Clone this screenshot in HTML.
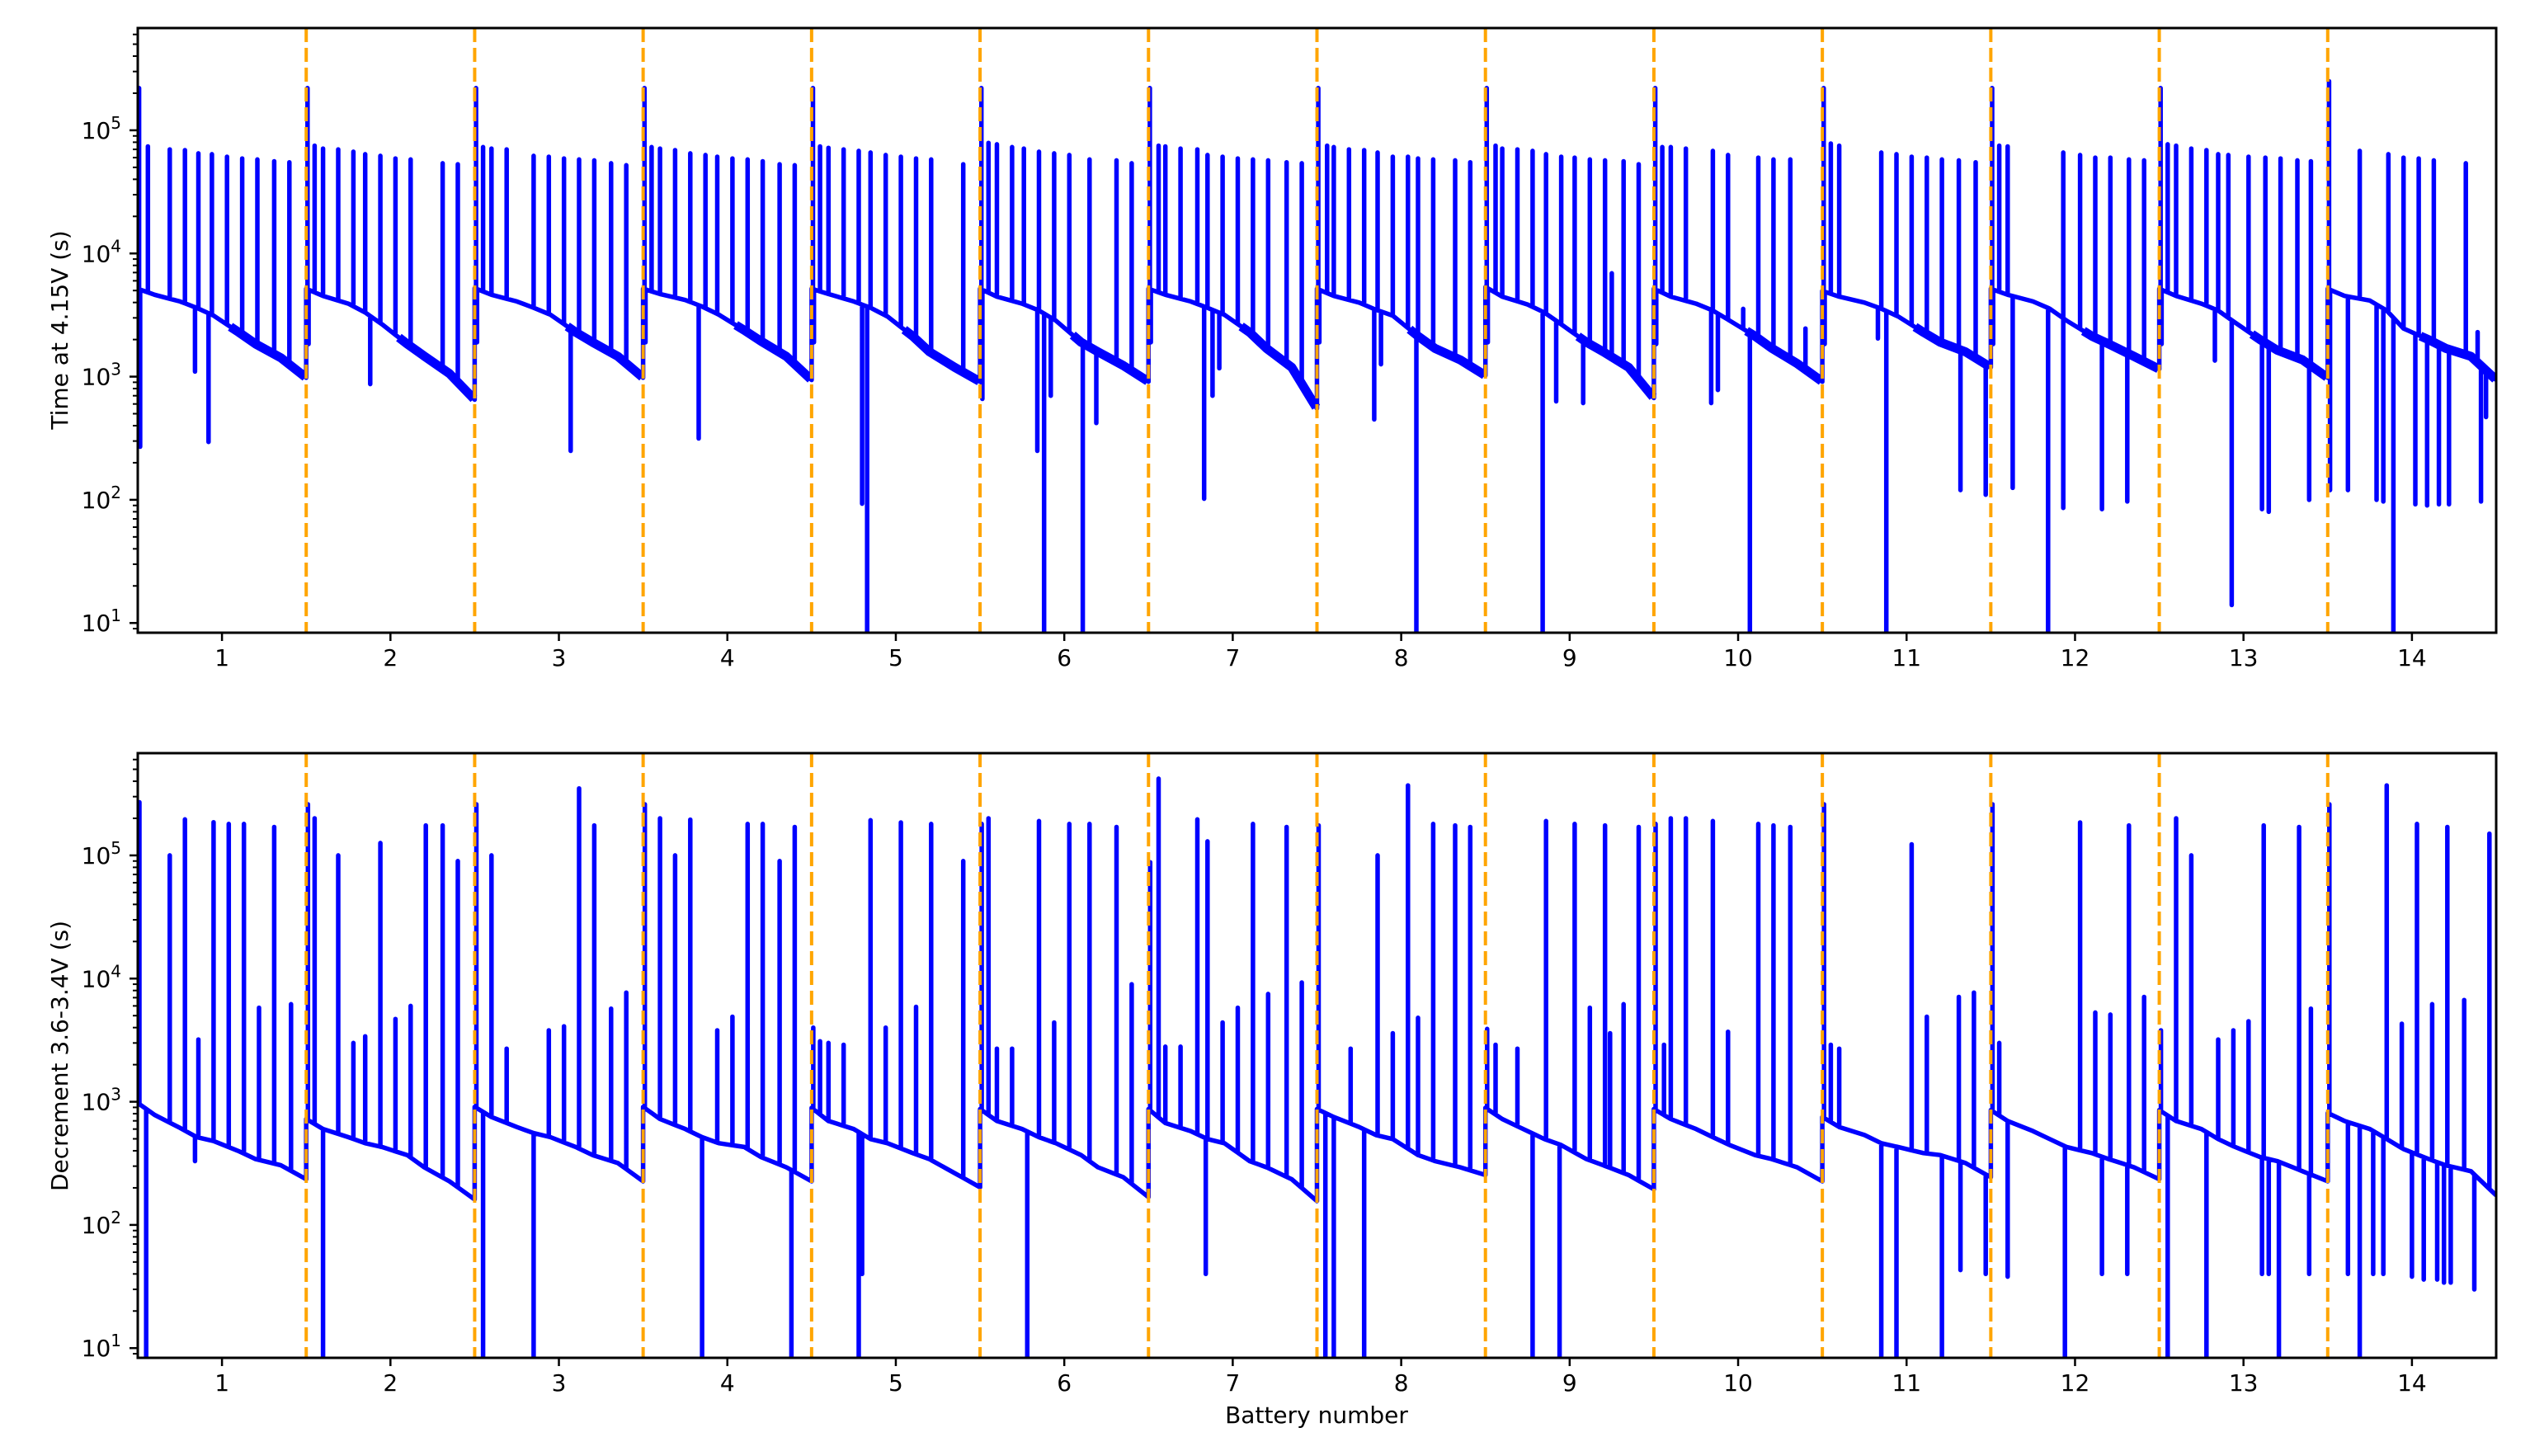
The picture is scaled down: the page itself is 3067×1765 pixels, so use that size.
<!DOCTYPE html>
<html><head><meta charset="utf-8">
<style>
html,body{margin:0;padding:0;background:#fff;}
svg{display:block;font-family:"DejaVu Sans","Liberation Sans",sans-serif;}
</style></head>
<body>
<svg id="chart" width="3067" height="1765" viewBox="0 0 3067 1765" xmlns="http://www.w3.org/2000/svg">
<rect width="3067" height="1765" fill="#fff"/>
<defs>
<clipPath id="clipTop"><rect x="167" y="34" width="2859" height="733"/></clipPath>
<clipPath id="clipBot"><rect x="167" y="913" width="2859" height="733"/></clipPath>
</defs>
<g id="topPanel"></g>
<g id="botPanel"></g>
<text x="1596" y="1725" font-size="28" text-anchor="middle">Battery number</text>
<text transform="translate(82,400) rotate(-90)" font-size="28" text-anchor="middle">Time at 4.15V (s)</text>
<text transform="translate(82,1280) rotate(-90)" font-size="28" text-anchor="middle">Decrement 3.6-3.4V (s)</text>
</svg>
<script>
const batteries = [1,2,3,4,5,6,7,8,9,10,11,12,13,14];
const xTicks = [1,2,3,4,5,6,7,8,9,10,11,12,13,14];
const boundaries = [1.5,2.5,3.5,4.5,5.5,6.5,7.5,8.5,9.5,10.5,11.5,12.5,13.5];
const yTickExps = [1,2,3,4,5];
const knotOffsets = [0,0.1,0.25,0.35,0.45,0.6,0.7,0.85,1];

const topBase = [
[5170,4620,4080,3620,3130,2290,1840,1420,980],
[5170,4520,3910,3320,2660,1840,1470,1060,650],
[5230,4620,4080,3620,3180,2290,1900,1460,980],
[5170,4690,4190,3710,3180,2380,1940,1460,940],
[5170,4690,4080,3620,3080,2130,1590,1190,910],
[5170,4460,3910,3440,2850,1900,1590,1230,910],
[5170,4620,4080,3620,3180,2290,1700,1190,550],
[5170,4520,3990,3490,3130,2130,1700,1370,1020],
[5350,4460,3850,3320,2660,1900,1590,1190,670],
[5170,4460,3910,3440,2850,2130,1700,1280,910],
[4960,4460,3990,3560,3080,2290,1900,1590,1190],
[5170,4620,4080,3560,2850,2130,1840,1460,1150],
[5170,4520,3910,3440,2750,1990,1640,1370,980],
[5170,4520,4150,3440,2460,1990,1700,1460,940]
];
const topUps = [
[[.008,2.2e5],[.06,7.4e4],[.19,7e4],[.28,6.9e4],[.36,6.5e4],[.44,6.4e4],[.53,6.1e4],[.62,5.9e4],[.71,5.8e4],[.81,5.6e4],[.9,5.5e4]],
[[.008,2.2e5],[.05,7.5e4],[.1,7.1e4],[.19,7e4],[.28,6.7e4],[.35,6.4e4],[.44,6.2e4],[.53,5.9e4],[.62,5.8e4],[.81,5.4e4],[.9,5.3e4]],
[[.008,2.2e5],[.05,7.3e4],[.1,7.1e4],[.19,7e4],[.35,6.2e4],[.44,6.1e4],[.53,5.9e4],[.62,5.8e4],[.71,5.7e4],[.81,5.4e4],[.9,5.2e4]],
[[.008,2.2e5],[.05,7.3e4],[.1,7.1e4],[.19,6.9e4],[.28,6.5e4],[.37,6.3e4],[.44,6.1e4],[.53,5.9e4],[.62,5.8e4],[.71,5.6e4],[.81,5.3e4],[.9,5.2e4]],
[[.008,2.2e5],[.05,7.4e4],[.1,7.2e4],[.19,7e4],[.28,6.8e4],[.35,6.6e4],[.44,6.3e4],[.53,6.1e4],[.62,5.9e4],[.71,5.8e4],[.9,5.3e4]],
[[.008,2.2e5],[.05,7.9e4],[.1,7.7e4],[.19,7.3e4],[.26,7.1e4],[.35,6.7e4],[.44,6.5e4],[.53,6.3e4],[.65,5.8e4],[.81,5.7e4],[.9,5.4e4]],
[[.008,2.2e5],[.06,7.5e4],[.1,7.4e4],[.19,7.1e4],[.29,7e4],[.35,6.3e4],[.44,6.1e4],[.53,5.9e4],[.62,5.8e4],[.71,5.7e4],[.82,5.5e4],[.91,5.4e4]],
[[.008,2.2e5],[.06,7.5e4],[.1,7.3e4],[.19,7e4],[.28,6.9e4],[.36,6.6e4],[.45,6.1e4],[.54,6.1e4],[.6,5.9e4],[.69,5.8e4],[.82,5.7e4],[.91,5.5e4]],
[[.008,2.2e5],[.06,7.5e4],[.1,7.1e4],[.19,7e4],[.28,6.8e4],[.36,6.4e4],[.45,6.1e4],[.53,6e4],[.62,5.8e4],[.71,5.7e4],[.75,6900],[.82,5.6e4],[.91,5.3e4]],
[[.008,2.2e5],[.05,7.3e4],[.1,7.3e4],[.19,7.1e4],[.35,6.8e4],[.44,6.3e4],[.53,3550],[.62,6e4],[.71,5.8e4],[.81,5.8e4],[.9,2460]],
[[.008,2.2e5],[.05,7.8e4],[.1,7.5e4],[.35,6.6e4],[.44,6.4e4],[.53,6.1e4],[.62,6e4],[.71,5.8e4],[.81,5.7e4],[.91,5.5e4]],
[[.008,2.2e5],[.05,7.5e4],[.1,7.4e4],[.43,6.6e4],[.53,6.3e4],[.62,6e4],[.71,6e4],[.82,5.8e4],[.91,5.7e4]],
[[.008,2.2e5],[.05,7.7e4],[.1,7.5e4],[.19,7.1e4],[.28,6.9e4],[.35,6.4e4],[.41,6.3e4],[.53,6.1e4],[.63,6e4],[.72,5.9e4],[.82,5.7e4],[.9,5.6e4]],
[[.008,2.5e5],[.19,6.8e4],[.36,6.4e4],[.45,6e4],[.54,5.9e4],[.63,5.7e4],[.82,5.4e4],[.89,2300]]
];
const topDowns = [
[[.014,270],[.34,1100],[.42,295]],
[[.014,1840],[.38,870]],
[[.014,1900],[.57,250]],
[[.014,1900],[.33,315]],
[[.014,1900],[.3,93],[.33,5]],
[[.014,660],[.34,250],[.38,5],[.42,700],[.61,5],[.69,420]],
[[.014,1900],[.33,102],[.38,700],[.42,1170]],
[[.014,1900],[.34,450],[.38,1260],[.59,5]],
[[.014,1900],[.34,5],[.42,630],[.58,610]],
[[.014,1840],[.34,610],[.38,780],[.57,5]],
[[.014,1840],[.33,2040],[.38,5],[.82,120],[.97,110]],
[[.014,1840],[.13,125],[.34,5],[.43,86],[.66,84],[.81,97]],
[[.014,1840],[.33,1350],[.43,14],[.61,84],[.65,80],[.89,100]],
[[.014,120],[.12,120],[.29,100],[.33,97],[.39,5],[.52,92],[.59,90],[.66,92],[.72,92],[.91,97],[.94,470]]
];

const botBase = [
[977,782,614,516,480,397,342,305,235],
[724,601,516,461,429,369,294,226,161],
[908,752,624,556,516,429,369,318,226],
[908,724,601,516,461,429,355,294,226],
[893,698,601,498,461,383,342,263,202],
[873,698,601,516,461,369,294,244,168],
[873,671,578,498,461,330,294,235,156],
[873,752,624,537,498,369,330,294,254],
[893,724,578,498,445,342,305,254,195],
[873,724,601,516,445,369,342,294,226],
[752,624,537,461,429,383,369,318,244],
[855,698,578,498,429,383,342,294,235],
[855,698,601,498,429,355,330,273,226],
[811,698,601,498,413,342,305,273,174]
];
const botUps = [
[[.01,2.7e5],[.19,1e5],[.28,1.96e5],[.36,3200],[.45,1.86e5],[.54,1.8e5],[.63,1.8e5],[.72,5800],[.81,1.7e5],[.91,6200]],
[[.01,2.6e5],[.05,2e5],[.19,1e5],[.28,3000],[.35,3400],[.44,1.26e5],[.53,4700],[.62,6000],[.71,1.75e5],[.81,1.75e5],[.9,9e4]],
[[.01,2.6e5],[.1,1e5],[.19,2700],[.44,3800],[.53,4100],[.62,3.5e5],[.71,1.75e5],[.81,5700],[.9,7700]],
[[.01,2.6e5],[.1,2e5],[.19,1e5],[.28,1.95e5],[.44,3800],[.53,4900],[.62,1.8e5],[.71,1.8e5],[.81,9e4],[.9,1.7e5]],
[[.01,4000],[.05,3100],[.1,3000],[.19,2900],[.35,1.93e5],[.44,4000],[.53,1.85e5],[.62,5900],[.71,1.8e5],[.9,9e4]],
[[.01,1.8e5],[.05,2e5],[.1,2700],[.19,2700],[.35,1.9e5],[.44,4400],[.53,1.8e5],[.65,1.8e5],[.81,1.7e5],[.9,9000]],
[[.01,8.8e4],[.06,4.2e5],[.1,2800],[.19,2800],[.29,1.96e5],[.35,1.3e5],[.44,4400],[.53,5800],[.62,1.8e5],[.71,7500],[.82,1.7e5],[.91,9300]],
[[.01,1.75e5],[.2,2700],[.36,1e5],[.45,3600],[.54,3.7e5],[.6,4800],[.69,1.8e5],[.82,1.75e5],[.91,1.7e5]],
[[.01,3900],[.06,2900],[.19,2700],[.36,1.9e5],[.53,1.8e5],[.62,5800],[.71,1.75e5],[.74,3600],[.82,6200],[.91,1.7e5]],
[[.01,1.8e5],[.06,2900],[.1,2e5],[.19,2e5],[.35,1.9e5],[.44,3700],[.62,1.8e5],[.71,1.75e5],[.81,1.7e5]],
[[.01,2.6e5],[.05,2900],[.1,2700],[.53,1.23e5],[.62,4900],[.81,7100],[.9,7700]],
[[.01,2.6e5],[.05,3000],[.53,1.85e5],[.62,5300],[.71,5100],[.82,1.75e5],[.91,7100]],
[[.01,3800],[.1,2e5],[.19,1e5],[.35,3200],[.44,3800],[.53,4500],[.62,1.75e5],[.83,1.7e5],[.9,5700]],
[[.01,2.6e5],[.35,3.7e5],[.44,4300],[.53,1.8e5],[.62,6200],[.71,1.7e5],[.81,6700],[.96,1.5e5]]
];
const botDowns = [
[[.05,5],[.34,330]],
[[.1,5]],
[[.05,5],[.35,5]],
[[.35,5],[.88,5]],
[[.28,5],[.3,40]],
[[.28,5]],
[[.34,40]],
[[.05,5],[.1,5],[.28,5]],
[[.28,5],[.44,5]],
[],
[[.35,5],[.44,5],[.71,5],[.82,43],[.97,40]],
[[.1,38],[.44,5],[.66,40],[.81,40]],
[[.05,5],[.28,5],[.61,40],[.65,40],[.71,5],[.89,40]],
[[.12,40],[.19,5],[.27,40],[.33,40],[.5,38],[.57,36],[.65,36],[.69,34],[.73,34],[.87,30]]
];

const NS = 'http://www.w3.org/2000/svg';
const X0 = 167, X1 = 3026, XMIN = 0.5, XMAX = 14.5;
const LMIN = 0.921, LMAX = 5.83;
function xs(v){ return X0 + (v - XMIN) / (XMAX - XMIN) * (X1 - X0); }
function makeY(top, bottom){ return v => bottom - (Math.log10(v) - LMIN) / (LMAX - LMIN) * (bottom - top); }
function el(tag, attrs, parent){ const e = document.createElementNS(NS, tag); for (const k in attrs) e.setAttribute(k, attrs[k]); parent.appendChild(e); return e; }
function baseAt(knots, o){
  for (let i = 0; i < knotOffsets.length - 1; i++){
    const a = knotOffsets[i], b = knotOffsets[i+1];
    if (o >= a && o <= b){
      const t = (o - a) / (b - a);
      return Math.pow(10, Math.log10(knots[i]) * (1 - t) + Math.log10(knots[i+1]) * t);
    }
  }
  return knots[knots.length - 1];
}

function drawPanel(g, top, bottom, base, ups, downs, clipId, prefix, noisy){
  const ys = makeY(top, bottom);
  let d = '';
  batteries.forEach((b, i) => {
    const ev = [];
    knotOffsets.forEach(o => ev.push({o: o, t: 'k'}));
    ups[i].forEach(p => ev.push({o: p[0], t: 's', v: p[1]}));
    downs[i].forEach(p => ev.push({o: p[0], t: 's', v: p[1]}));
    ev.sort((a, c) => a.o - c.o);
    ev.forEach(e => {
      const x = xs(b - 0.5 + e.o).toFixed(1);
      const bv = baseAt(base[i], e.o);
      const yb = ys(bv).toFixed(1);
      d += (d ? 'L' : 'M') + x + ',' + yb;
      if (e.t === 's'){ d += 'L' + x + ',' + ys(e.v).toFixed(1) + 'L' + x + ',' + yb; }
    });
  });
  const path = el('path', {d: d, fill: 'none', stroke: '#0000ff', 'stroke-width': 5.5, 'stroke-linejoin': 'round', 'clip-path': 'url(#' + clipId + ')'}, g);
  
  
  if (noisy){
    let nd = '';
    batteries.forEach((b, i) => {
      const offs = [0.55,0.6,0.7,0.85,0.995];
      offs.forEach((o, j) => {
        nd += (j === 0 ? 'M' : 'L') + xs(b - 0.5 + o).toFixed(1) + ',' + ys(baseAt(base[i], o)).toFixed(1);
      });
    });
    const np = el('path', {d: nd, fill: 'none', stroke: '#0000ff', 'stroke-width': 11, 'stroke-linejoin': 'round', 'clip-path': 'url(#' + clipId + ')'}, g);
    
    
  }
  boundaries.forEach(bv => {
    const ln = el('line', {x1: xs(bv), x2: xs(bv), y1: top, y2: bottom, stroke: '#ffa500', 'stroke-width': 4, 'stroke-dasharray': '17,7'}, g);
    
    
  });
  const fr = el('rect', {x: X0, y: top, width: X1 - X0, height: bottom - top, fill: 'none', stroke: '#000', 'stroke-width': 3}, g);
  
  
  xTicks.forEach(t => {
    const x = xs(t);
    const tk = el('line', {x1: x, x2: x, y1: bottom, y2: bottom + 10, stroke: '#000', 'stroke-width': 2.5}, g);
    
    
    const tx = el('text', {x: x, y: bottom + 40, 'font-size': 28, 'text-anchor': 'middle'}, g);
    tx.textContent = String(t);
    
    
  });
  for (let e = 0; e <= 5; e++){
    for (let m = 1; m <= 9; m++){
      const v = m * Math.pow(10, e);
      const lv = Math.log10(v);
      if (lv < LMIN || lv > LMAX) continue;
      const y = ys(v);
      const major = (m === 1);
      const tk = el('line', {x1: X0, x2: X0 - (major ? 10 : 6), y1: y, y2: y, stroke: '#000', 'stroke-width': major ? 2.5 : 2}, g);
      
      
    }
  }
  yTickExps.forEach(e => {
    const y = ys(Math.pow(10, e));
    const tx = el('text', {x: 147, y: y + 10, 'font-size': 28, 'text-anchor': 'end'}, g);
    
    
    const t1 = el('tspan', {}, tx); t1.textContent = '10';
    const t2 = el('tspan', {dy: -12, 'font-size': 20}, tx); t2.textContent = String(e);
  });
}
drawPanel(document.getElementById('topPanel'), 34, 767, topBase, topUps, topDowns, 'clipTop', 'top', true);
drawPanel(document.getElementById('botPanel'), 913, 1646, botBase, botUps, botDowns, 'clipBot', 'bottom', false);
</script>
</body></html>
